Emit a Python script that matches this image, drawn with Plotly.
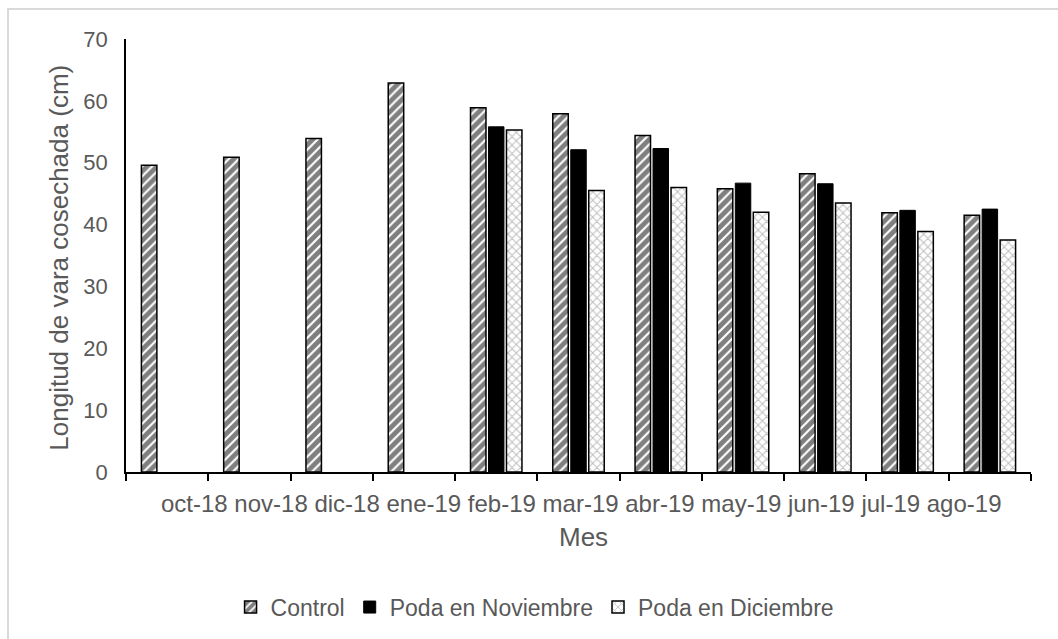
import plotly.graph_objects as go

meses = ["oct-18", "nov-18", "dic-18", "ene-19", "feb-19", "mar-19",
         "abr-19", "may-19", "jun-19", "jul-19", "ago-19"]
control = [49.6, 50.9, 53.9, 62.9, 58.9, 57.9, 54.4, 45.8, 48.2, 41.9, 41.5]
poda_nov = [None, None, None, None, 55.8, 52.1, 52.3, 46.7, 46.6, 42.3, 42.5]
poda_dic = [None, None, None, None, 55.3, 45.5, 46.0, 42.0, 43.5, 38.9, 37.5]

FONT = "Liberation Sans, Arial, sans-serif"
GRAY = "#595959"

fig = go.Figure()
fig.add_trace(go.Bar(
    x=meses, y=control, name="Control",
    marker=dict(color="white",
                line=dict(color="black", width=1.5),
                pattern=dict(shape="/", fgcolor="black", bgcolor="white",
                             size=7, solidity=0.7)),
))
fig.add_trace(go.Bar(
    x=meses, y=poda_nov, name="Poda en Noviembre",
    marker=dict(color="black", line=dict(color="black", width=1)),
))
fig.add_trace(go.Bar(
    x=meses, y=poda_dic, name="Poda en Diciembre",
    marker=dict(color="white",
                line=dict(color="black", width=1.5),
                pattern=dict(shape="x", fgcolor="#7a7a7a", bgcolor="white",
                             size=6, solidity=0.3)),
))

fig.update_layout(
    width=1058, height=639,
    margin=dict(l=126, r=27, t=39, b=166),
    paper_bgcolor="white", plot_bgcolor="white",
    barmode="group", bargap=0.344, bargroupgap=0.14,
    font=dict(family=FONT, color=GRAY, size=22),
    showlegend=True,
    legend=dict(orientation="h", x=0.452, xanchor="center",
                y=-0.309, yanchor="middle",
                font=dict(family=FONT, size=23, color=GRAY),
                itemwidth=30, traceorder="normal"),
    xaxis=dict(type="category", showline=True, linecolor="black", linewidth=1.5,
               ticks="outside", tickson="boundaries", ticklen=7,
               tickcolor="black", tickwidth=1.5,
               showticklabels=False, showgrid=False, zeroline=False,
               fixedrange=True),
    yaxis=dict(range=[0, 70], dtick=10, showline=True, linecolor="black",
               linewidth=1.5, ticks="", showgrid=False, zeroline=False,
               ticklabelstandoff=12,
               tickfont=dict(family=FONT, size=22, color=GRAY)),
    shapes=[dict(type="rect", xref="paper", yref="paper",
                 x0=-0.1304, x1=1.04, y0=-0.40, y1=1.069,
                 line=dict(color="#d9d9d9", width=2), layer="below")],
    annotations=[
        dict(text=" ".join(meses), xref="paper", yref="paper",
             x=0.5028, y=-0.0737, xanchor="center", yanchor="middle",
             showarrow=False, font=dict(family=FONT, size=24, color=GRAY)),
        dict(text="Mes", xref="paper", yref="paper",
             x=0.505, y=-0.15, xanchor="center", yanchor="middle",
             showarrow=False, font=dict(family=FONT, size=26, color=GRAY)),
        dict(text="Longitud de vara cosechada (cm)", xref="paper", yref="paper",
             x=-0.074, y=0.495, xanchor="center", yanchor="middle",
             textangle=-90, showarrow=False,
             font=dict(family=FONT, size=26, color=GRAY)),
    ],
)

fig.write_html("out.html")
